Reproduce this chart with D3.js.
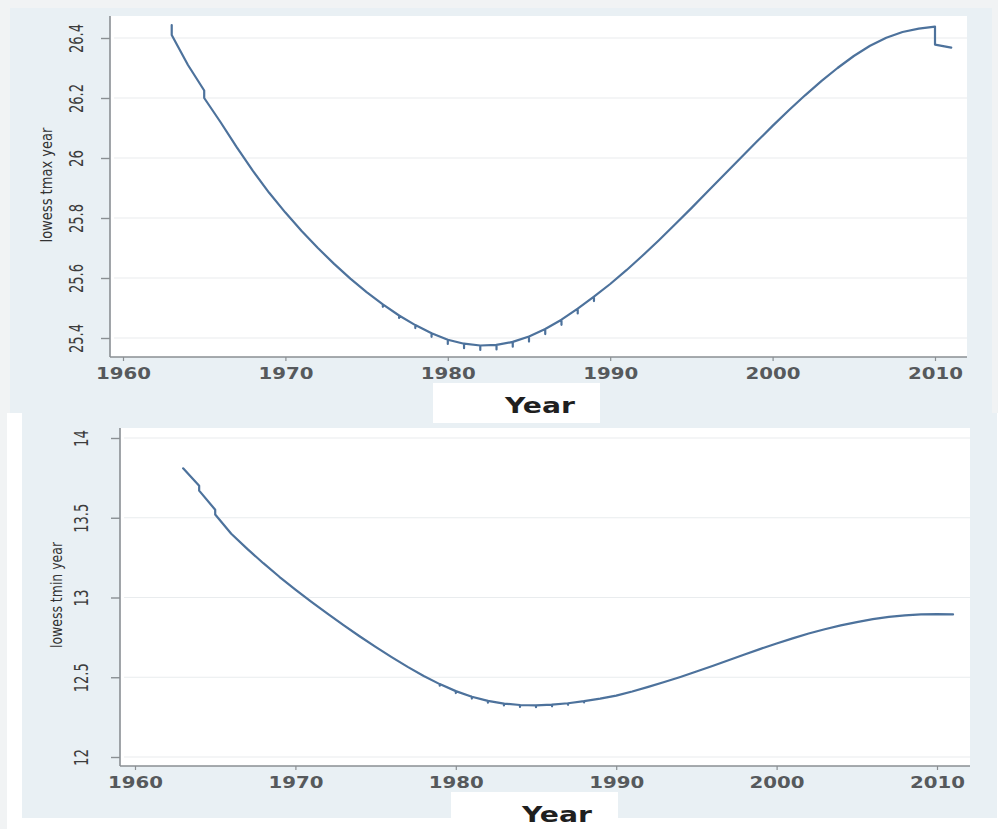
<!DOCTYPE html>
<html>
<head>
<meta charset="utf-8">
<script src="https://cdn.jsdelivr.net/npm/d3@7"></script>
<style>
  body { margin: 0; background: #f1f3f4; }
  svg { display: block; }
</style>
</head>
<body>
<div id="chart"></div>
<script>
// x axis ticks (both panels)
const yearTicks = [1960, 1970, 1980, 1990, 2000, 2010];

// top panel: lowess tmax year (repeated years are the small vertical steps)
const tmaxYears = [1963, 1963, 1964, 1965, 1965, 1966, 1967, 1968, 1969, 1970, 1971, 1972, 1973, 1974,
  1975, 1976, 1977, 1978, 1979, 1980, 1981, 1982, 1983, 1984, 1985, 1986, 1987, 1988, 1989, 1990,
  1991, 1992, 1993, 1994, 1995, 1996, 1997, 1998, 1999, 2000, 2001, 2002, 2003, 2004, 2005, 2006,
  2007, 2008, 2009, 2010, 2010, 2011];
const tmaxValues = [26.443, 26.41, 26.31, 26.225, 26.2, 26.12, 26.036, 25.957, 25.884, 25.818, 25.757,
  25.7, 25.647, 25.598, 25.553, 25.512, 25.475, 25.443, 25.416, 25.394, 25.381, 25.375, 25.377, 25.387,
  25.405, 25.43, 25.461, 25.498, 25.538, 25.58, 25.626, 25.675, 25.726, 25.779, 25.833, 25.888, 25.943,
  25.998, 26.053, 26.107, 26.159, 26.209, 26.256, 26.3, 26.34, 26.374, 26.401, 26.42, 26.431, 26.438,
  26.378, 26.368];
// small downward teeth hanging from the curve
const tmaxTeethYears = [1976, 1977, 1978, 1979, 1980, 1981, 1982, 1983, 1984, 1985, 1986, 1987, 1988, 1989];
const tmaxTeethDepth = [0.008, 0.008, 0.01, 0.012, 0.014, 0.015, 0.015, 0.015, 0.016, 0.017, 0.017, 0.017, 0.016, 0.015];
const tmaxTicks = [25.4, 25.6, 25.8, 26, 26.2, 26.4];

// bottom panel: lowess tmin year
const tminYears = [1963, 1964, 1964, 1965, 1965, 1966, 1967, 1968, 1969, 1970, 1971, 1972, 1973, 1974,
  1975, 1976, 1977, 1978, 1979, 1980, 1981, 1982, 1983, 1984, 1985, 1986, 1987, 1988, 1989, 1990,
  1991, 1992, 1993, 1994, 1995, 1996, 1997, 1998, 1999, 2000, 2001, 2002, 2003, 2004, 2005, 2006,
  2007, 2008, 2009, 2010, 2011];
const tminValues = [13.81, 13.7, 13.67, 13.55, 13.52, 13.4, 13.305, 13.215, 13.13, 13.05, 12.973, 12.899,
  12.827, 12.757, 12.69, 12.626, 12.565, 12.508, 12.457, 12.413, 12.378, 12.352, 12.335, 12.326, 12.324,
  12.328, 12.337, 12.35, 12.366, 12.385, 12.411, 12.44, 12.47, 12.502, 12.536, 12.571, 12.607, 12.643,
  12.678, 12.712, 12.744, 12.774, 12.801, 12.825, 12.846, 12.864, 12.878, 12.888, 12.894, 12.896, 12.894];
const tminTeethYears = [1979, 1980, 1981, 1982, 1983, 1984, 1985, 1986, 1987, 1988];
const tminTeethDepth = [0.01, 0.012, 0.012, 0.012, 0.012, 0.012, 0.012, 0.01, 0.01, 0.008];
const tminTicks = [12, 12.5, 13, 13.5, 14];

const lineColor = "#4d729c";

const svg = d3.select("#chart").append("svg").attr("width", 998).attr("height", 829);

// page and panel backgrounds
svg.append("rect").attr("width", 998).attr("height", 829).attr("fill", "#f1f3f4");
svg.append("rect").attr("x", 10).attr("y", 8).attr("width", 982).attr("height", 405).attr("fill", "#e9f0f4");
svg.append("rect").attr("x", 7).attr("y", 413).attr("width", 991).attr("height", 416).attr("fill", "#ffffff");
svg.append("rect").attr("x", 22).attr("y", 413).attr("width", 975).attr("height", 405).attr("fill", "#e9f0f4");

function buildPoints(years, values, teethYears, teethDepth) {
  const pts = [];
  years.forEach((yr, i) => {
    pts.push([yr, values[i]]);
    const t = teethYears.indexOf(yr);
    if (t >= 0 && years[i + 1] !== yr && years[i - 1] !== yr) {
      pts.push([yr, values[i] - teethDepth[t]]);
      pts.push([yr, values[i]]);
    }
  });
  return pts;
}

function drawPanel(opt) {
  const g = svg.append("g");
  const x = d3.scaleLinear().domain([1960, 2010]).range([opt.x0, opt.x1]);
  const y = d3.scaleLinear().domain(opt.domain).range([opt.yBottom, opt.yTop]);

  // plot region
  g.append("rect")
    .attr("x", opt.left).attr("y", opt.top)
    .attr("width", opt.right - opt.left).attr("height", opt.bottom - opt.top)
    .attr("fill", "#ffffff");

  // gridlines
  g.selectAll(".grid")
    .data(opt.ticks)
    .join("line")
    .attr("x1", opt.left + 4).attr("x2", opt.right)
    .attr("y1", (d) => y(d)).attr("y2", (d) => y(d))
    .attr("stroke", "#e9ecee").attr("stroke-width", 1.2);

  // y axis
  const yAxis = g.append("g")
    .attr("transform", `translate(${opt.left}, 0)`)
    .call(d3.axisLeft(y).tickValues(opt.ticks).tickSize(9).tickFormat(d3.format("")));
  yAxis.select(".domain").attr("d", `M0,${opt.top}V${opt.bottom}`).attr("stroke", "#8a8f93").attr("stroke-width", 1.6);
  yAxis.selectAll(".tick line").attr("stroke", "#8a8f93").attr("stroke-width", 1.4);
  yAxis.selectAll(".tick text")
    .attr("x", null).attr("dy", null)
    .attr("text-anchor", "middle")
    .attr("transform", `translate(${opt.labelX - opt.left}, 0) rotate(-90)`)
    .attr("textLength", function () {
      const s = this.textContent;
      return s.replace(".", "").length * 8.5 + (s.includes(".") ? 3.5 : 0);
    })
    .attr("lengthAdjust", "spacingAndGlyphs")
    .style("font-family", "'DejaVu Sans', sans-serif")
    .style("font-size", "19px")
    .attr("fill", "#3c3c3c");

  // x axis
  const xAxis = g.append("g")
    .attr("transform", `translate(0, ${opt.bottom})`)
    .call(d3.axisBottom(x).tickValues(yearTicks).tickSize(4).tickFormat(d3.format("d")));
  xAxis.select(".domain").attr("d", `M${opt.left},0H${opt.right}`).attr("stroke", "#8a8f93").attr("stroke-width", 1.6);
  xAxis.selectAll(".tick line").attr("stroke", "#8a8f93").attr("stroke-width", 1.2);
  xAxis.selectAll(".tick text")
    .attr("y", 22).attr("dy", null)
    .attr("textLength", 55).attr("lengthAdjust", "spacingAndGlyphs")
    .style("font-family", "'DejaVu Sans', sans-serif")
    .style("font-weight", "bold")
    .style("font-size", "15px")
    .attr("fill", "#56595c");

  // y axis title
  g.append("text")
    .attr("transform", `translate(${opt.titleX}, ${opt.titleY}) rotate(-90)`)
    .attr("text-anchor", "middle")
    .attr("textLength", opt.titleLen).attr("lengthAdjust", "spacingAndGlyphs")
    .style("font-family", "'DejaVu Sans', sans-serif")
    .style("font-size", "15px")
    .attr("fill", "#333")
    .text(opt.title);

  // the lowess curve
  const line = d3.line().x((d) => x(d[0])).y((d) => y(d[1]));
  g.append("path")
    .datum(opt.points)
    .attr("d", line)
    .attr("fill", "none")
    .attr("stroke", lineColor)
    .attr("stroke-width", 2.2)
    .attr("stroke-linejoin", "round")
    .attr("stroke-linecap", "round");

  // white box with the "Year" label
  g.append("rect")
    .attr("x", opt.boxX).attr("y", opt.boxY)
    .attr("width", 167).attr("height", opt.boxH)
    .attr("fill", "#ffffff");
  g.append("text")
    .attr("x", opt.yearX).attr("y", opt.yearY)
    .attr("text-anchor", "middle")
    .attr("textLength", 70).attr("lengthAdjust", "spacingAndGlyphs")
    .style("font-family", "'DejaVu Sans', sans-serif")
    .style("font-weight", "bold")
    .style("font-size", "21px")
    .attr("fill", "#1f1f1f")
    .text("Year");
}

drawPanel({
  points: buildPoints(tmaxYears, tmaxValues, tmaxTeethYears, tmaxTeethDepth),
  domain: [25.4, 26.4], ticks: tmaxTicks,
  x0: 123, x1: 935, yBottom: 338, yTop: 38,
  left: 110, right: 967, top: 16, bottom: 357,
  labelX: 83, titleX: 52, titleY: 185, titleLen: 115, title: "lowess tmax year",
  boxX: 433, boxY: 383, boxH: 40, yearX: 540, yearY: 413
});

drawPanel({
  points: buildPoints(tminYears, tminValues, tminTeethYears, tminTeethDepth),
  domain: [12, 14], ticks: tminTicks,
  x0: 135, x1: 937, yBottom: 757, yTop: 438,
  left: 120, right: 970, top: 428, bottom: 766,
  labelX: 88, titleX: 62, titleY: 595, titleLen: 106, title: "lowess tmin year",
  boxX: 451, boxY: 792, boxH: 37, yearX: 557, yearY: 822
});
</script>
</body>
</html>
